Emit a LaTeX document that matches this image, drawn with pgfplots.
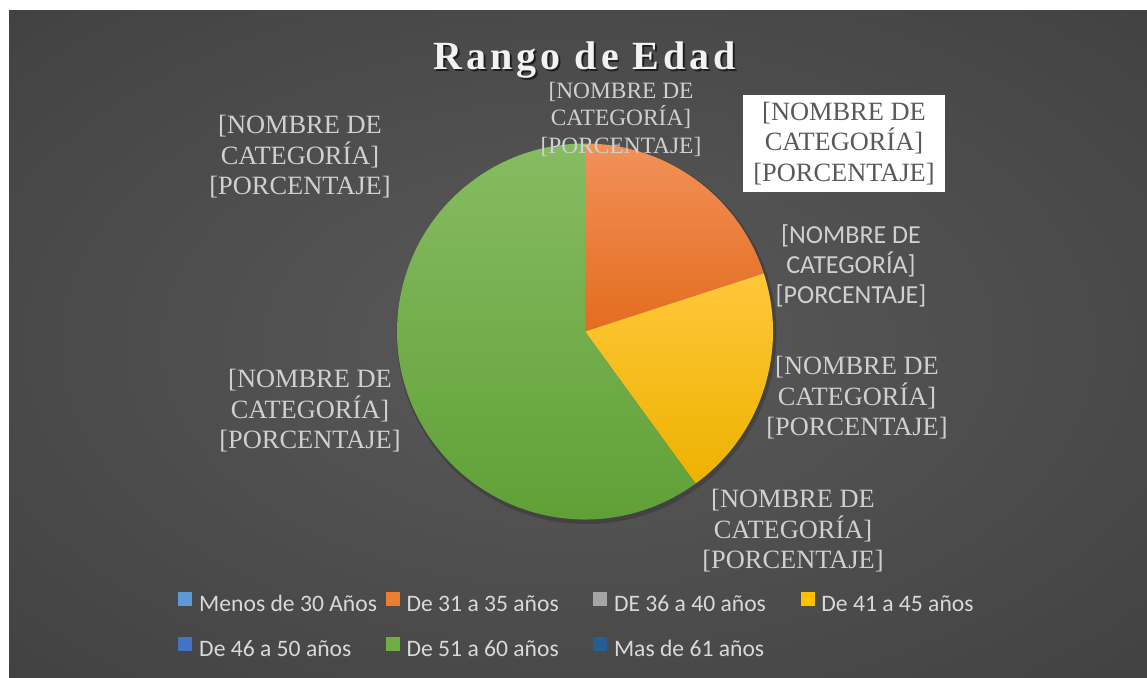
\documentclass[border=0pt]{standalone}
\usepackage{fontspec}
\setmainfont{Liberation Serif}
\newfontfamily\legendfont{Carlito}
\newfontfamily\titlefont[LetterSpace=10]{Liberation Serif}
\usepackage{pgfplots}
\usepackage{pgfplotstable}
\pgfplotsset{compat=1.18}

\definecolor{cA}{HTML}{5B9BD5}
\definecolor{cB}{HTML}{ED7D31}
\definecolor{cC}{HTML}{A5A5A5}
\definecolor{cD}{HTML}{FFC000}
\definecolor{cE}{HTML}{4472C4}
\definecolor{cF}{HTML}{70AD47}
\definecolor{cG}{HTML}{255E91}
\definecolor{orTop}{HTML}{F2915A}
\definecolor{orBot}{HTML}{E46C1E}
\definecolor{yeTop}{HTML}{FFC73A}
\definecolor{yeBot}{HTML}{EDB200}
\definecolor{grTop}{HTML}{86BC62}
\definecolor{grBot}{HTML}{5E9E34}
\definecolor{lbl}{HTML}{D0D0D0}
\definecolor{lgtext}{HTML}{D9D9D9}
\definecolor{boxtext}{HTML}{595959}
\definecolor{bgin}{HTML}{5A5A5A}
\definecolor{bgmid}{HTML}{383838}
\definecolor{bgout}{HTML}{272727}
\pgfdeclareradialshading{bgshade}{\pgfpoint{0bp}{0bp}}{color(0bp)=(bgin); color(50bp)=(bgmid); color(72bp)=(bgout)}

\pgfplotstableread{
cat value
MenosDe30 0
De31a35 20
DE36a40 0
De41a45 20
De46a50 0
De51a60 60
MasDe61 0
}\agedata

\newcommand\lbltext{[NOMBRE DE\\CATEGORÍA]\\{}[PORCENTAJE]}

\begin{document}
\begin{tikzpicture}
\pgfplotstablegetelem{1}{value}\of\agedata\let\vB\pgfplotsretval
\pgfplotstablegetelem{3}{value}\of\agedata\let\vD\pgfplotsretval
\pgfplotstablegetelem{5}{value}\of\agedata\let\vF\pgfplotsretval
\pgfmathsetmacro\aA{90}
\pgfmathsetmacro\aB{\aA-3.6*\vB}
\pgfmathsetmacro\aD{\aB-3.6*\vD}
\pgfmathsetmacro\aF{\aD-3.6*\vF}
\begin{axis}[
  hide axis, scale only axis, clip=false,
  width=573.5pt, height=338.5pt,
  xmin=0, xmax=1147, ymin=0, ymax=677,
  legend columns=4,
  legend cell align=left,
  legend image code/.code={\fill[#1] (0pt,0pt) rectangle (6.5pt,6.5pt);},
  legend style={draw=none, fill=none, at={(0.1500,0.1315)}, anchor=north west,
    font=\legendfont\fontsize{11.8}{13}\selectfont, text=lgtext,
    nodes={inner sep=0pt, text height=8.5pt, text depth=2.5pt},
    row sep=10pt,
    /tikz/every odd column/.append style={column sep=3.5pt}},
]
% background
\fill[white] (axis cs:0,0) rectangle (axis cs:1147,677);
\shade[shading=bgshade] (axis cs:9,0) rectangle (axis cs:1147,667);
% pie shadow
\fill[black, opacity=0.18] (axis cs:586.5,343) circle[radius=95pt];
% slices
\path[top color=orTop, bottom color=orBot] (axis cs:585,345.5) -- ++(\aA:94pt) arc[start angle=\aA, end angle=\aB, radius=94pt] -- cycle;
\path[top color=yeTop, bottom color=yeBot] (axis cs:585,345.5) -- ++(\aB:94pt) arc[start angle=\aB, end angle=\aD, radius=94pt] -- cycle;
\path[top color=grTop, bottom color=grBot] (axis cs:585,345.5) -- ++(\aD:94pt) arc[start angle=\aD, end angle=\aF, radius=94pt] -- cycle;
% title
\node[anchor=base, text=black, opacity=0.6, font=\titlefont\bfseries\fontsize{20}{24}\selectfont] at (axis cs:586.5,606) {Rango de Edad};
\node[anchor=base, text=white!95!black, font=\titlefont\bfseries\fontsize{20}{24}\selectfont] at (axis cs:585,608) {Rango de Edad};
% data labels
\tikzset{dl/.style={align=center, text=lbl, font=\fontsize{13.2}{15.25}\selectfont, inner sep=0pt}}
\node[dl, font=\fontsize{11.7}{13.75}\selectfont] at (axis cs:621,558) {\lbltext};
\node[dl, fill=white, text=boxtext, minimum width=101pt, minimum height=48.5pt] at (axis cs:844,533.5) {\lbltext};
\node[dl, font=\legendfont\fontsize{13}{15}\selectfont] at (axis cs:851,411) {\lbltext};
\node[dl] at (axis cs:857,279) {\lbltext};
\node[dl] at (axis cs:793,146) {\lbltext};
\node[dl] at (axis cs:310,266) {\lbltext};
\node[dl] at (axis cs:300,520) {\lbltext};
% legend
\addlegendimage{cA}\addlegendentry{\makebox[93.3pt][l]{Menos de 30 Años}}
\addlegendimage{cB}\addlegendentry{\makebox[93.3pt][l]{De 31 a 35 años}}
\addlegendimage{cC}\addlegendentry{\makebox[93.3pt][l]{DE 36 a 40 años}}
\addlegendimage{cD}\addlegendentry{\makebox[93.3pt][l]{De 41 a 45 años}}
\addlegendimage{cE}\addlegendentry{\makebox[93.3pt][l]{De 46 a 50 años}}
\addlegendimage{cF}\addlegendentry{\makebox[93.3pt][l]{De 51 a 60 años}}
\addlegendimage{cG}\addlegendentry{\makebox[93.3pt][l]{Mas de 61 años}}
\end{axis}
\end{tikzpicture}
\end{document}
